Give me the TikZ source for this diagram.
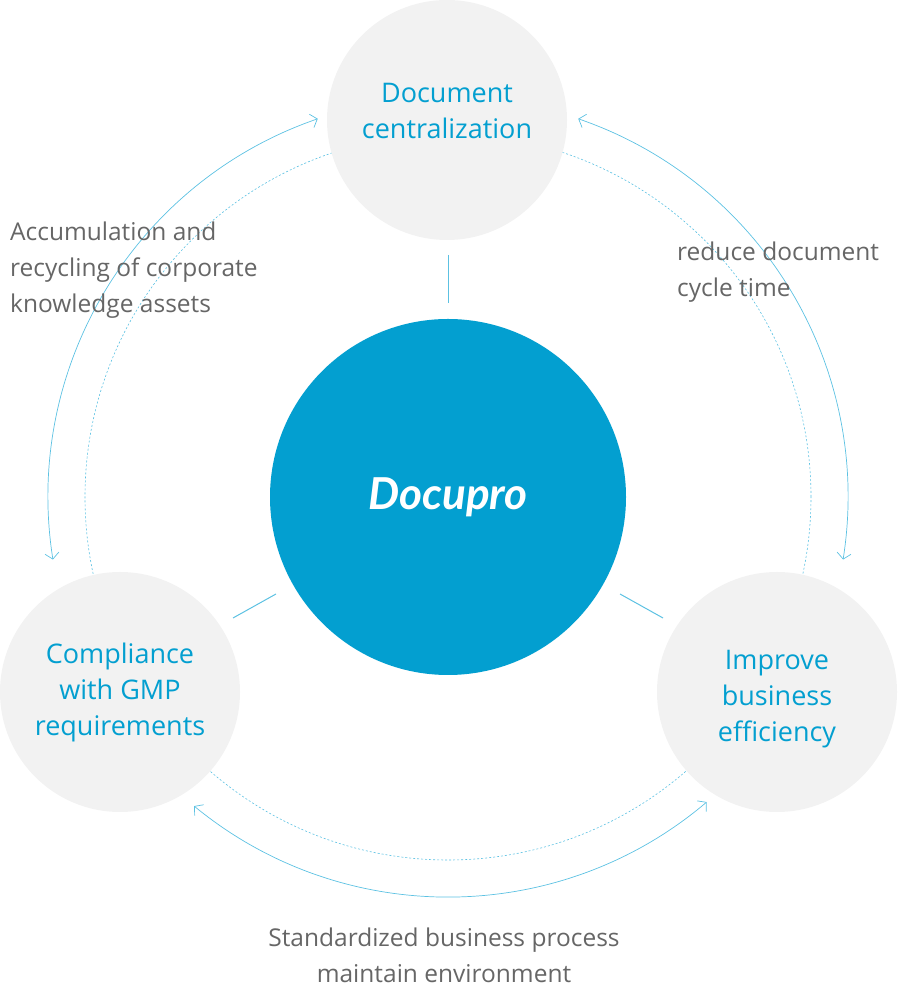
\documentclass[tikz,border=0pt]{standalone}
\usepackage{fontspec}
\setmainfont{Open Sans}
\newfontfamily\logofont{Lato}
\usetikzlibrary{arrows.meta}
\definecolor{docblue}{HTML}{039FD0}
\definecolor{linkblue}{HTML}{5CC1E2}
\definecolor{softgray}{HTML}{F2F2F2}
\definecolor{textgray}{HTML}{666666}
\tikzset{
  goal/.style={circle, fill=softgray, minimum size=240pt, inner sep=0pt, text=docblue, align=center, font=\fontsize{27}{36}\selectfont},
  note/.style={text=textgray, font=\fontsize{24.5}{36}\selectfont, inner sep=0pt},
  cycle/.style={linkblue, line width=0.7pt, {Straight Barb[length=6pt,width=14pt]}-{Straight Barb[length=6pt,width=14pt]}},
  tick/.style={linkblue, line width=1pt}
}
\begin{document}
\begin{tikzpicture}[x=1pt,y=1pt]
\useasboundingbox (0,0) rectangle (897,990);
\coordinate (c) at (448,493);
% dashed orbit
\draw[linkblue, dash pattern=on 2pt off 2pt, line width=0.6pt] (c) circle (363);
% arrows round the orbit
\draw[cycle] ([shift={(109:400)}]c) arc (109:189:400);
\draw[cycle] ([shift={(71:400)}]c) arc (71:-9:400);
\draw[cycle] ([shift={(230.6:400)}]c) arc (230.6:310.3:400);
% circles
\node[circle, fill=docblue, minimum size=356pt, inner sep=0pt, text=white,
  font=\logofont\fontsize{44}{44}\selectfont\itshape\bfseries] (core) at (c) {Docupro};
\node[goal] (top) at (447,870) {};
\node[goal] (left) at (120,298) {};
\node[goal] (right) at (777,298) {};
\node[text=docblue, align=center, font=\fontsize{27}{36}\selectfont] (toptext) at (447,879) {Document\\centralization};
\node[text=docblue, align=center, font=\fontsize{27}{36}\selectfont] (lefttext) at (left) {Compliance\\with GMP\\requirements};
\node[text=docblue, align=center, font=\fontsize{27}{36}\selectfont] (righttext) at (777,291) {Improve\\business\\efficiency};
\draw[tick] (448,735) -- (448,687);
\draw[tick] (233,372) -- (276,396);
\draw[tick] (620,396) -- (663,372);
% labels
\node[note, anchor=north west, align=left] (accum) at (10,768) {Accumulation and\\recycling of corporate\\knowledge assets};
\node[note, anchor=north west, align=left] (cycletime) at (677,748) {reduce document\\cycle time};
\node[note, anchor=north, align=center] (standard) at (444,62) {Standardized business process\\maintain environment};
\end{tikzpicture}
\end{document}
